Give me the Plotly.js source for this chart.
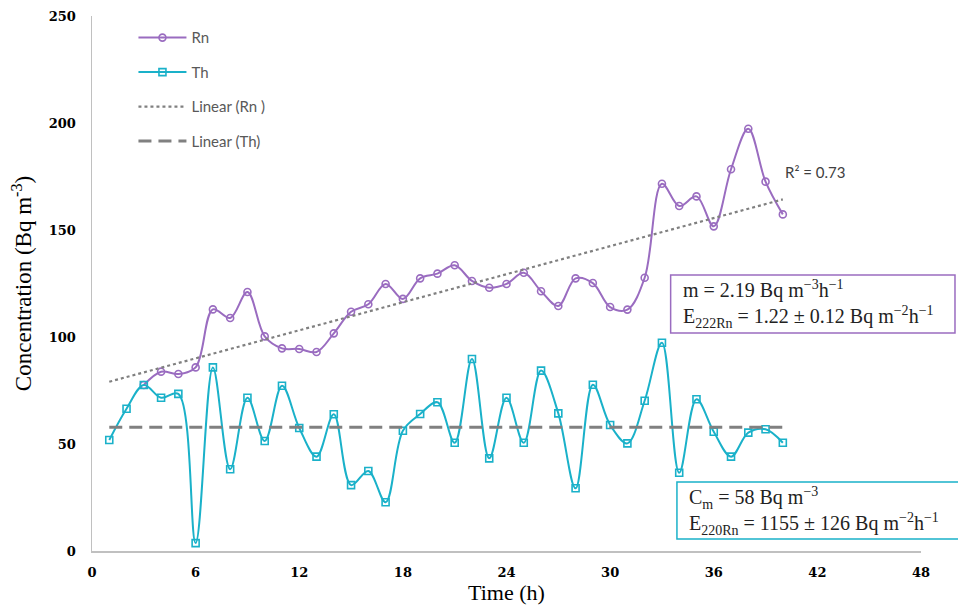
<!DOCTYPE html>
<html>
<head>
<meta charset="utf-8">
<script src="https://cdn.plot.ly/plotly-3.0.1.min.js"></script>
<style>html,body{margin:0;padding:0;background:#fff;}#chart{width:958px;height:607px;}</style>
</head>
<body>
<div id="chart"></div>
<script>
// Data
const hoursRn = [3,4,5,6,7,8,9,10,11,12,13,14,15,16,17,18,19,20,21,22,23,24,25,26,27,28,29,30,31,32,33,34,35,36,37,38,39,40];
const rn = [77.6,83.8,82.7,85.8,112.9,108.9,121.0,100.3,94.7,94.4,93.0,101.7,111.8,115.3,124.8,117.8,127.4,129.6,133.5,126.2,123.0,124.8,130.0,121.4,114.5,127.4,125.2,114.0,112.8,127.7,171.6,161.2,165.7,151.7,178.4,197.3,172.6,157.3];
const hoursTh = [1,2,3,4,5,6,7,8,9,10,11,12,13,14,15,16,17,18,19,20,21,22,23,24,25,26,27,28,29,30,31,32,33,34,35,36,37,38,39,40];
const th = [51.9,66.5,77.6,71.6,73.4,3.7,85.8,38.2,71.6,51.4,77.2,57.5,44.1,63.9,30.8,37.4,22.8,56.2,64.0,69.5,50.6,89.7,43.3,71.6,50.6,84.3,64.3,29.3,77.7,58.9,50.3,70.2,97.3,36.6,70.9,55.7,44.1,55.3,56.9,50.6];
const trendX = [1,40];
const trendRn = [79.1,164.3];
const trendTh = [57.8,57.8];
const xTicks = [0,6,12,18,24,30,36,42,48];
const yTicks = [0,50,100,150,200,250];
const seriesNames = ['Rn','Th','Linear (Rn )','Linear (Th)'];
const r2Text = 'R\u00b2 = 0.73';
const boxRnLines = ['m = 2.19 Bq m<sup>\u22123</sup>h<sup>\u22121</sup>', 'E<sub>222Rn</sub> = 1.22 \u00b1 0.12 Bq m<sup>\u22122</sup>h<sup>\u22121</sup>'];
const boxThLines = ['C<sub>m</sub> = 58 Bq m<sup>\u22123</sup>', 'E<sub>220Rn</sub> = 1155 \u00b1 126 Bq m<sup>\u22122</sup>h<sup>\u22121</sup>'];

const purple = '#9a6cc0';
const cyan = '#1ab1c9';
const grey = '#808080';

const traces = [
  {x: hoursRn, y: rn, name: seriesNames[0], legendgroup: 'a', mode: 'lines+markers',
   line: {color: purple, width: 2, shape: 'spline', smoothing: 1},
   marker: {symbol: 'circle-open', size: 7, color: purple, line: {width: 1.6, color: purple}}},
  {x: hoursTh, y: th, name: seriesNames[1], legendgroup: 'b', mode: 'lines+markers',
   line: {color: cyan, width: 2, shape: 'spline', smoothing: 1},
   marker: {symbol: 'square-open', size: 7, color: cyan, line: {width: 1.6, color: cyan}}},
  {x: trendX, y: trendRn, name: seriesNames[2], legendgroup: 'c', mode: 'lines',
   line: {color: grey, width: 2.2, dash: 'dot'}},
  {x: trendX, y: trendTh, name: seriesNames[3], legendgroup: 'd', mode: 'lines',
   line: {color: grey, width: 3, dash: '13px,7px'}}
];

const serif = 'Liberation Serif, DejaVu Serif, serif';
const layout = {
  width: 958, height: 607,
  margin: {l: 92, r: 37, t: 16, b: 56},
  paper_bgcolor: '#fff', plot_bgcolor: '#fff',
  showlegend: true,
  legend: {x: 0.05, y: 0.99, xanchor: 'left', yanchor: 'top', traceorder: 'grouped', tracegroupgap: 12,
           itemwidth: 48, font: {family: 'Lato, Open Sans, sans-serif', size: 15, color: '#595959'}, bgcolor: 'rgba(0,0,0,0)'},
  xaxis: {range: [0, 48], tickvals: xTicks, ticktext: xTicks.map(String), showgrid: false, zeroline: false,
          showline: true, linecolor: '#c0c0c0', linewidth: 1.5, ticks: '', ticklabelstandoff: 9,
          tickfont: {family: 'DejaVu Serif, serif', size: 13, color: '#000', weight: 'bold'},
          title: {text: 'Time (h)', font: {family: serif, size: 22, color: '#000'}, standoff: 5}},
  yaxis: {range: [0, 250], tickvals: yTicks, ticktext: yTicks.map(String), showgrid: false, zeroline: false,
          showline: true, linecolor: '#c0c0c0', linewidth: 1.5, ticks: '', ticklabelstandoff: 12,
          tickfont: {family: 'DejaVu Serif, serif', size: 13, color: '#000', weight: 'bold'},
          title: {text: 'Concentration (Bq m<sup>-3</sup>)', font: {family: serif, size: 23, color: '#000'}, standoff: 10}},
  shapes: [
    {type: 'rect', xref: 'paper', yref: 'paper', x0: 0.698, x1: 1.041, y0: 0.4075, y1: 0.516,
     line: {color: purple, width: 1.5}, fillcolor: '#fff', layer: 'above'},
    {type: 'rect', xref: 'paper', yref: 'paper', x0: 0.7056, x1: 1.07, y0: 0.0224, y1: 0.129,
     line: {color: cyan, width: 1.5}, fillcolor: '#fff', layer: 'above'}
  ],
  annotations: [
    {text: r2Text, xref: 'x', yref: 'y', x: 40.0, y: 177, xanchor: 'left', yanchor: 'middle', showarrow: false,
     font: {family: 'Lato, Open Sans, sans-serif', size: 15, color: '#404040'}},
    {text: boxRnLines.join('<br>'), xref: 'paper', yref: 'paper', x: 0.71, y: 0.461, xanchor: 'left', yanchor: 'middle',
     align: 'left', showarrow: false, font: {family: serif, size: 20, color: '#222'}},
    {text: boxThLines.join('<br>'), xref: 'paper', yref: 'paper', x: 0.718, y: 0.075, xanchor: 'left', yanchor: 'middle',
     align: 'left', showarrow: false, font: {family: serif, size: 20, color: '#222'}}
  ]
};

Plotly.newPlot('chart', traces, layout, {displayModeBar: false, staticPlot: true});
</script>
</body>
</html>
